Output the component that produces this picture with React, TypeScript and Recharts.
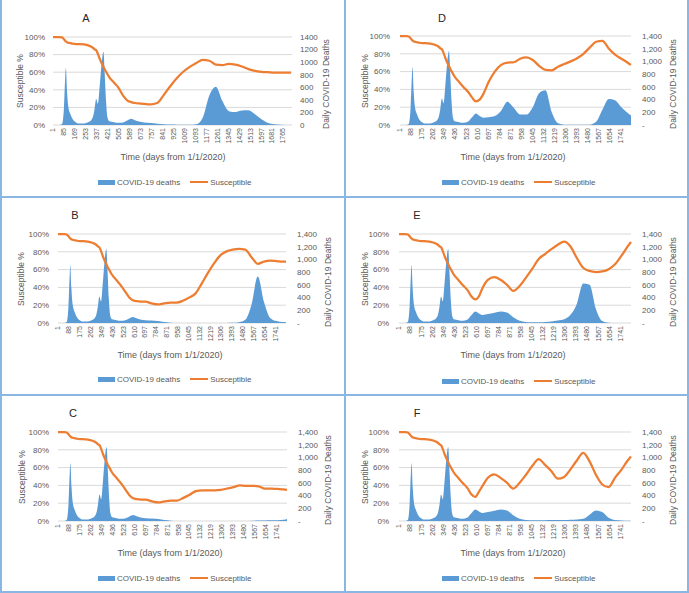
import { ComposedChart, Area, Line, XAxis, YAxis, CartesianGrid } from "recharts";

// sample days: dense in the first year where the spikes are, coarser after
const earlyDays = [1, 50, 70, 85, 95, 100, 108, 118, 135, 150, 175, 200, 240, 270, 295, 310, 320, 332, 345, 360, 375, 388, 398, 408, 418, 432, 470, 500];
const lateDays = [540, 570, 600, 630, 660, 700, 750, 800, 850, 900, 950, 1000, 1050, 1100, 1150, 1200, 1250, 1300, 1350, 1400, 1450, 1500, 1550, 1600, 1650, 1700, 1750, 1800, 1826];
const days = [...earlyDays, ...lateDays];

// shared history (all scenarios identical up to ~day 500)
const earlyDeaths = [0, 0, 15, 280, 770, 910, 560, 300, 170, 100, 45, 22, 25, 45, 80, 150, 260, 415, 340, 640, 1000, 1165, 800, 380, 130, 60, 45, 35];
const earlySusceptible = [100, 100, 99.5, 97.5, 95.5, 95, 94, 93.5, 93, 92.5, 92, 92, 91.5, 90.5, 89, 87.5, 86, 85, 81, 75, 70, 66, 63, 60.5, 58, 54.5, 48, 43];

// scenario tails, days 540..1826
const deathsA = [40, 70, 100, 75, 55, 40, 30, 20, 12, 8, 5, 3, 3, 12, 120, 470, 610, 380, 220, 205, 230, 235, 170, 90, 30, 10, 3, 0, 0];
const susceptibleA = [33, 28, 26, 25, 24.5, 24, 23.5, 25, 34, 44, 53, 60.5, 66, 70.5, 74, 73, 68.5, 68, 69.5, 68.5, 66.5, 63.5, 61.5, 60.5, 60, 59.5, 59.5, 59.5, 59.5];

const deathsB = [45, 70, 95, 75, 55, 45, 38, 30, 15, 5, 1, 0, 0, 0, 0, 0, 0, 0, 0, 2, 12, 50, 290, 730, 330, 80, 30, 15, 12];
const susceptibleB = [35, 29, 25.5, 24.5, 24, 24, 22, 20.8, 22, 23, 23, 25, 28.5, 33, 44, 56, 67, 76, 80.5, 82.5, 83.3, 82.5, 74, 66.5, 69, 70, 69.5, 69, 69];

const deathsC = [45, 70, 95, 75, 55, 45, 38, 30, 15, 5, 1, 0, 0, 0, 0, 0, 0, 0, 0, 0, 0, 0, 4, 7, 9, 10, 12, 18, 32];
const susceptibleC = [35, 29, 25.5, 24.5, 24, 24, 22, 20.8, 22, 23, 23, 26, 29.5, 33.5, 34.5, 34.5, 34.5, 35, 36.5, 38, 40, 39.5, 39.5, 39, 36.5, 36.5, 36, 35.5, 35];

const deathsD = [55, 120, 180, 140, 115, 120, 140, 225, 365, 270, 165, 165, 280, 500, 545, 200, 28, 5, 3, 3, 3, 5, 50, 240, 410, 390, 280, 190, 150];
const susceptibleD = [37, 31, 26.5, 28.5, 35, 48, 60, 67.5, 70, 70.5, 74.5, 76, 73, 66.5, 62, 61.5, 65.5, 68.5, 71.5, 75, 80, 87, 93.5, 94.5, 86, 79, 74.5, 70, 67.5];

const deathsE = [55, 120, 180, 150, 125, 140, 160, 180, 165, 90, 35, 15, 10, 10, 15, 25, 40, 60, 130, 300, 620, 600, 220, 30, 3, 0, 0, 0, 0];
const susceptibleE = [37, 30, 26.5, 30, 40, 48.5, 51.5, 48.5, 43, 36, 41.5, 51, 61, 72, 77.5, 83, 88, 91.5, 86, 73, 62, 58.5, 57.3, 58, 60.5, 66, 75.5, 86, 91];

const deathsF = [55, 120, 180, 150, 125, 140, 160, 180, 165, 90, 35, 15, 10, 10, 12, 15, 15, 15, 18, 25, 35, 100, 165, 140, 50, 15, 8, 3, 0];
const susceptibleF = [37, 30, 27, 33, 40, 48.5, 52.5, 48.5, 43, 36.5, 43, 52, 62, 69.5, 63, 56, 47.5, 49.5, 58, 68, 76.5, 67, 52, 41, 38, 48.5, 57.5, 68, 72.5];

const dayTicksA = [1, 85, 169, 253, 337, 421, 505, 589, 673, 757, 841, 925, 1009, 1093, 1177, 1261, 1345, 1429, 1513, 1597, 1681, 1765];
const dayTicks = [1, 88, 175, 262, 349, 436, 523, 610, 697, 784, 871, 958, 1045, 1132, 1219, 1306, 1393, 1480, 1567, 1654, 1741];
const pctTicks = [0, 20, 40, 60, 80, 100];
const deathTicks = [0, 200, 400, 600, 800, 1000, 1200, 1400];

const BLUE = "#5b9bd5";
const ORANGE = "#ed7d31";
const TEXT = "#595959";

const panels = [
  { id: "A", x: 1, y: 0, w: 344, h: 197, l: 52, r: 291, t: 37, b: 125, lGap: 8, rGap: 8, titleX: 85, lTitle: 19, rTitle: 325, xTitle: 172, legendY: 182, maxDay: 1834, ticks: dayTicksA, commas: false, deaths: deathsA, susc: susceptibleA },
  { id: "B", x: 1, y: 197, w: 344, h: 198, l: 57, r: 285, t: 37, b: 126, lGap: 9, rGap: 11, titleX: 74, lTitle: 20, rTitle: 327, xTitle: 169, legendY: 182, maxDay: 1826, ticks: dayTicks, commas: true, deaths: deathsB, susc: susceptibleB },
  { id: "C", x: 1, y: 395, w: 344, h: 197, l: 57, r: 286, t: 37, b: 126, lGap: 9, rGap: 11, titleX: 72, lTitle: 21, rTitle: 327, xTitle: 169, legendY: 183, maxDay: 1826, ticks: dayTicks, commas: true, deaths: deathsC, susc: susceptibleC },
  { id: "D", x: 345, y: 0, w: 343, h: 197, l: 55, r: 286, t: 36, b: 125, lGap: 10, rGap: 11, titleX: 97, lTitle: 20, rTitle: 328, xTitle: 168, legendY: 182, maxDay: 1826, ticks: dayTicks, commas: true, deaths: deathsD, susc: susceptibleD },
  { id: "E", x: 345, y: 197, w: 343, h: 198, l: 54, r: 286, t: 37, b: 126, lGap: 10, rGap: 11, titleX: 72, lTitle: 20, rTitle: 328, xTitle: 168, legendY: 184, maxDay: 1826, ticks: dayTicks, commas: true, deaths: deathsE, susc: susceptibleE },
  { id: "F", x: 345, y: 395, w: 343, h: 197, l: 54, r: 286, t: 37, b: 126, lGap: 10, rGap: 11, titleX: 72, lTitle: 20, rTitle: 328, xTitle: 168, legendY: 183, maxDay: 1826, ticks: dayTicks, commas: true, deaths: deathsF, susc: susceptibleF },
];

function DayTick({ x, y, payload }: any) {
  return (
    <text x={x} y={y} transform={`rotate(-90, ${x}, ${y})`} textAnchor="end" dy="0.35em" fontSize={7} fill={TEXT}>
      {payload.value}
    </text>
  );
}

function Panel({ p }: { p: any }) {
  const deaths = [...earlyDeaths, ...p.deaths];
  const susc = [...earlySusceptible, ...p.susc];
  const rows = days.map((d, i) => ({ day: d, deaths: deaths[i], susc: susc[i] }));
  const midY = (p.t + p.b) / 2;
  const rotated = (x: number, y: number, text: string, size: number) => (
    <div style={{
      position: "absolute", left: x, top: y, transform: "translate(-50%, -50%) rotate(-90deg)",
      whiteSpace: "nowrap", fontSize: size, color: TEXT,
    }}>{text}</div>
  );

  return (
    <div style={{ position: "absolute", left: p.x, top: p.y, width: p.w, height: p.h }}>
      <ComposedChart width={p.w} height={p.h} data={rows} margin={{ top: p.t, right: 0, bottom: 0, left: 0 }}>
        <CartesianGrid yAxisId="pct" vertical={false} stroke="#d9d9d9" />
        <XAxis dataKey="day" type="number" domain={[1, p.maxDay]} ticks={p.ticks} interval={0}
          height={p.h - p.b} axisLine={false} tickLine={false} tickSize={0} tickMargin={3} tick={<DayTick />} />
        <YAxis yAxisId="pct" domain={[0, 100]} ticks={pctTicks} interval={0} width={p.l}
          axisLine={false} tickLine={false} tickSize={0} tickMargin={p.lGap}
          tick={{ fontSize: 8, fill: TEXT }} tickFormatter={(v: number) => `${v}%`} />
        <YAxis yAxisId="deaths" orientation="right" domain={[0, 1400]} ticks={deathTicks} interval={0} width={p.w - p.r}
          axisLine={false} tickLine={false} tickSize={0} tickMargin={p.rGap}
          tick={{ fontSize: 8, fill: TEXT, textAnchor: "start" }}
          tickFormatter={(v: number) => (p.commas ? (v === 0 ? "-" : v.toLocaleString("en-US")) : String(v))} />
        <Area yAxisId="deaths" type="monotone" dataKey="deaths" stroke="none" fill={BLUE} fillOpacity={1} isAnimationActive={false} />
        <Line yAxisId="pct" type="monotone" dataKey="susc" stroke={ORANGE} strokeWidth={2.25} dot={false} isAnimationActive={false} />
      </ComposedChart>

      <div style={{ position: "absolute", left: p.titleX, top: 18, transform: "translate(-50%, -50%)", fontSize: 11, color: "#262626" }}>{p.id}</div>
      {rotated(p.lTitle, midY, "Susceptible %", 8.5)}
      {rotated(p.rTitle, midY + 3, "Daily COVID-19 Deaths", 8.5)}
      <div style={{ position: "absolute", left: p.xTitle, top: p.b + 32, transform: "translate(-50%, -50%)", whiteSpace: "nowrap", fontSize: 9, color: TEXT }}>
        Time (days from 1/1/2020)
      </div>
      <div style={{ position: "absolute", left: 97, top: p.legendY - 6, height: 12, display: "flex", alignItems: "center", fontSize: 8, color: TEXT, whiteSpace: "nowrap" }}>
        <span style={{ display: "inline-block", width: 17, height: 5, background: BLUE, marginRight: 2 }} />
        <span>COVID-19 deaths</span>
        <span style={{ display: "inline-block", width: 18, height: 2.5, background: ORANGE, marginLeft: 10, marginRight: 2 }} />
        <span>Susceptible</span>
      </div>
    </div>
  );
}

const FRAME = "#8ab6e4";

export default function App() {
  const lines = [
    { left: 0, top: 0, width: 2, height: 593 },
    { left: 344, top: 0, width: 2, height: 593 },
    { left: 687, top: 0, width: 2, height: 593 },
    { left: 0, top: 196, width: 689, height: 2 },
    { left: 0, top: 394, width: 689, height: 2 },
    { left: 0, top: 591, width: 689, height: 2 },
  ];
  return (
    <div style={{ position: "absolute", left: 0, top: 0, width: 689, height: 593, background: "#fff", fontFamily: "'Liberation Sans', Arial, sans-serif", overflow: "hidden" }}>
      {panels.map((p) => <Panel key={p.id} p={p} />)}
      {lines.map((s, i) => <div key={i} style={{ position: "absolute", background: FRAME, ...s }} />)}
    </div>
  );
}
